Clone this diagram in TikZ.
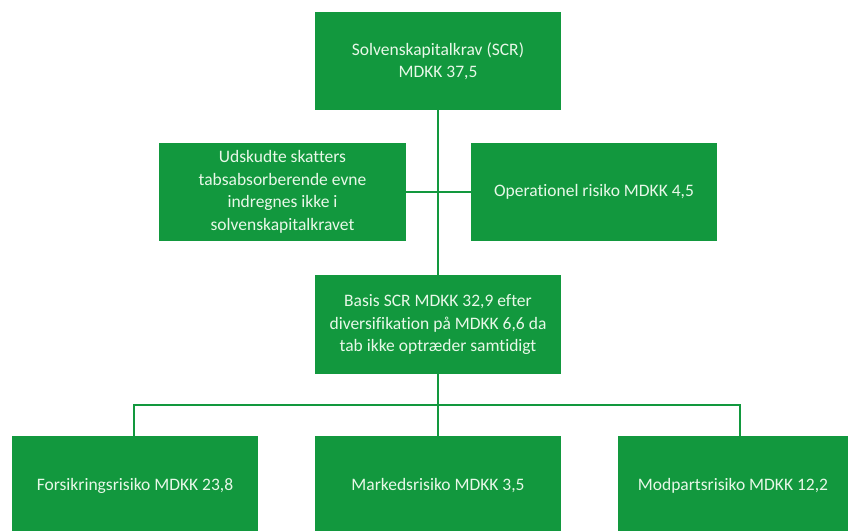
\documentclass[tikz,border=0pt]{standalone}
\usepackage{fontspec}
\setmainfont{Carlito}[Ligatures=NoCommon]
\definecolor{boxgreen}{RGB}{18,152,62}
\definecolor{txt}{RGB}{232,248,232}
\begin{document}
\begin{tikzpicture}[x=1pt,y=-1pt,
  gbox/.style={fill=boxgreen,draw=none,text=txt,align=center,inner sep=0pt,
    font=\fontsize{17.5}{22.5}\selectfont},
  conn/.style={draw=boxgreen,line width=2.6pt}]
\useasboundingbox (0,0) rectangle (851,531);
\fill[white] (0,0) rectangle (851,531);
% boxes
\fill[boxgreen] (315,12) rectangle (561,110);
\node[gbox] (top) at (438,61) {Solvenskapitalkrav (SCR)\\MDKK 37,5};
\fill[boxgreen] (159,143) rectangle (406,241);
\node[gbox] (left) at (282.5,192) {Udskudte skatters\\tabsabsorberende evne\\indregnes ikke i\\solvenskapitalkravet};
\fill[boxgreen] (471,143) rectangle (717,241);
\node[gbox] (right) at (594,192) {Operationel risiko MDKK 4,5};
\fill[boxgreen] (315,275) rectangle (561,374);
\node[gbox] (mid) at (438,324.5) {Basis SCR MDKK 32,9 efter\\diversifikation på MDKK 6,6 da\\tab ikke optræder samtidigt};
\fill[boxgreen] (12,436) rectangle (258,531);
\node[gbox] (b1) at (135,486) {Forsikringsrisiko MDKK 23,8};
\fill[boxgreen] (315,436) rectangle (561,531);
\node[gbox] (b2) at (438,486) {Markedsrisiko MDKK 3,5};
\fill[boxgreen] (618,436) rectangle (848,531);
\node[gbox] (b3) at (733,486) {Modpartsrisiko MDKK 12,2};
% connector coordinates
\coordinate (tb) at (438,110);
\coordinate (mt) at (438,275);
\coordinate (mb) at (438,374);
\coordinate (lr) at (406,192);
\coordinate (rl) at (471,192);
\coordinate (hl) at (134,405);
\coordinate (hr) at (740,405);
\coordinate (b1t) at (134,436);
\coordinate (b2t) at (438,436);
\coordinate (b3t) at (740,436);
\draw[conn] (tb) -- (mt);
\draw[conn] (lr) -- (rl);
\draw[conn] (mb) -- (b2t);
\draw[conn] (b1t) -- (hl) -- (hr) -- (b3t);
\end{tikzpicture}
\end{document}
